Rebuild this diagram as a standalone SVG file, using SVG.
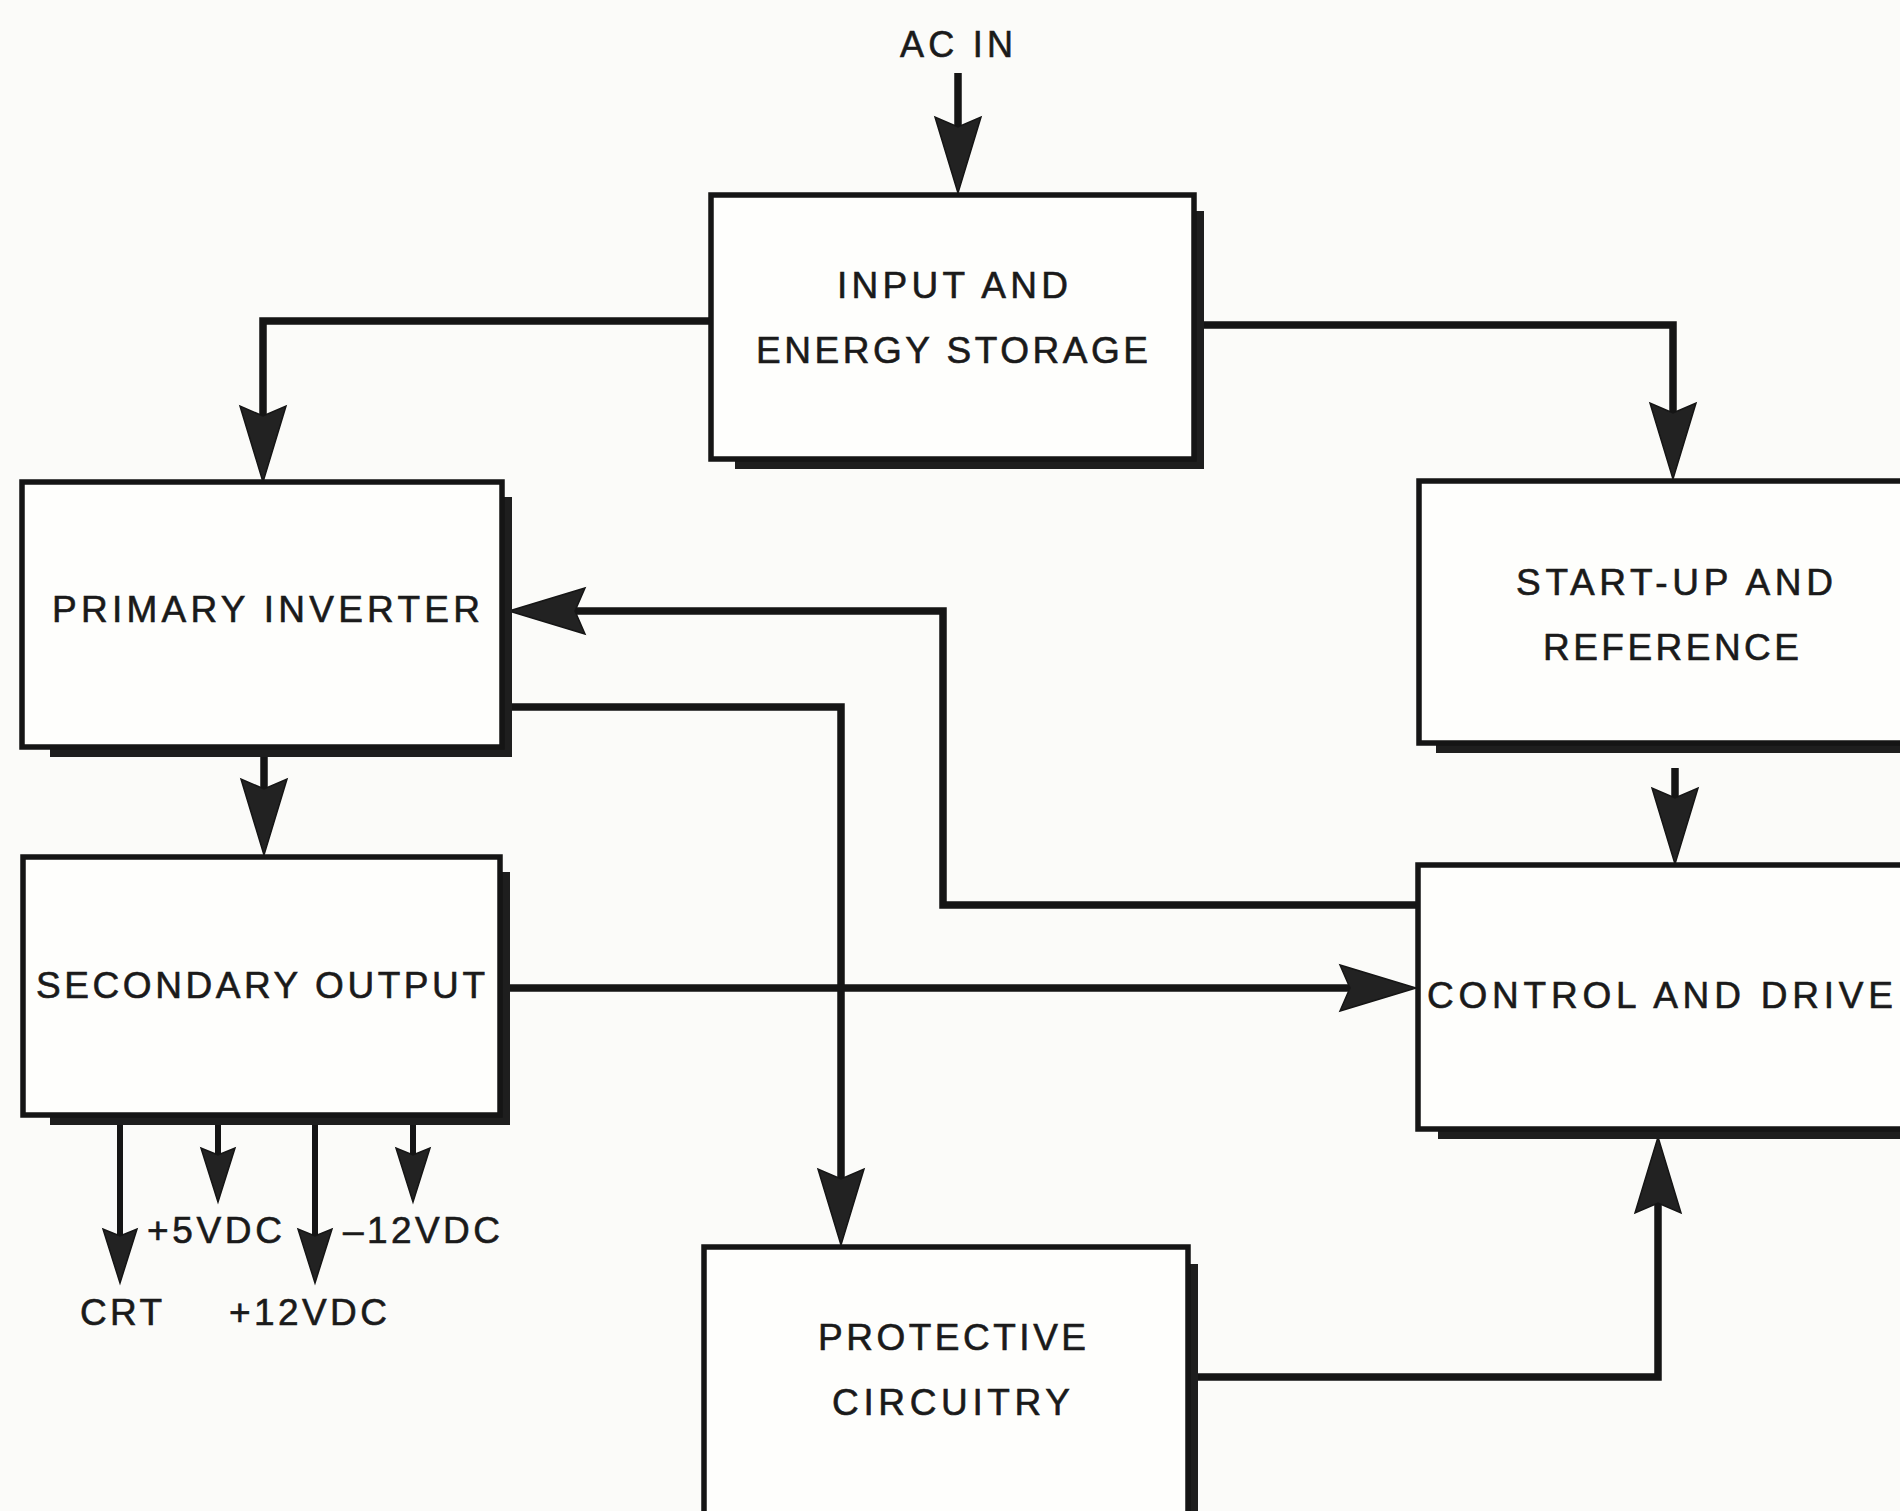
<svg xmlns="http://www.w3.org/2000/svg" xmlns:xlink="http://www.w3.org/1999/xlink" width="1900" height="1511" viewBox="0 0 1900 1511">
  <style>
    .box { fill: #fefefc; stroke: #151515; stroke-width: 5.5; }
    .shadow { fill: none; stroke: #1e1e1e; stroke-width: 8; stroke-linejoin: miter; }
    .wire { fill: none; stroke: #151515; stroke-width: 7.5; stroke-linejoin: miter; stroke-linecap: butt; }
    .thin { stroke-width: 6; }
    .head { fill: #222; stroke: #151515; stroke-width: 1.5; stroke-linejoin: miter; }
    .lbl { font-family: "Liberation Sans", Arial, Helvetica, sans-serif; font-size: 37px; fill: #1a1a1a; stroke: #1a1a1a; stroke-width: 0.6; }
    .small { font-size: 36px; }
  </style>
  <defs>
    <!-- arrowheads point down (+y) with the tip at the origin -->
    <path id="ah" d="M0,0 L-23,-76 L0,-66 L23,-76 Z"/>
    <path id="ahs" d="M0,0 L-17,-54 L0,-47 L17,-54 Z"/>
  </defs>

  <rect width="1900" height="1511" fill="#fbfbf9"/>

  <!-- connectors -->
  <g id="connectors">
    <!-- AC IN -->
    <path class="wire" d="M958,73 V128"/>
    <use xlink:href="#ah" class="head" transform="translate(958,193)"/>

    <!-- input -> primary inverter -->
    <path class="wire" d="M711,321 H263 V417"/>
    <use xlink:href="#ah" class="head" transform="translate(263,482)"/>

    <!-- input -> start-up -->
    <path class="wire" d="M1199,325 H1673 V413"/>
    <use xlink:href="#ah" class="head" transform="translate(1673,479)"/>

    <!-- primary -> secondary -->
    <path class="wire" d="M264,757 V790"/>
    <use xlink:href="#ah" class="head" transform="translate(264,855)"/>

    <!-- start-up -> control -->
    <path class="wire" d="M1675,768 V800"/>
    <use xlink:href="#ah" class="head" transform="translate(1675,864)"/>

    <!-- control -> primary (feedback) -->
    <path class="wire" d="M1418,905 H943 V611 H575"/>
    <use xlink:href="#ah" class="head" transform="translate(509,611) rotate(90)"/>

    <!-- primary -> protective -->
    <path class="wire" d="M505,707 H841 V1180"/>
    <use xlink:href="#ah" class="head" transform="translate(841,1245)"/>

    <!-- secondary -> control -->
    <path class="wire" d="M507,988 H1352"/>
    <use xlink:href="#ah" class="head" transform="translate(1416,988) rotate(-90)"/>

    <!-- protective -> control -->
    <path class="wire" d="M1194,1377 H1658 V1202"/>
    <use xlink:href="#ah" class="head" transform="translate(1658,1137) rotate(180)"/>

    <!-- DC outputs -->
    <path class="wire thin" d="M120,1122 V1240"/>
    <use xlink:href="#ahs" class="head" transform="translate(120,1283)"/>
    <path class="wire thin" d="M218,1122 V1160"/>
    <use xlink:href="#ahs" class="head" transform="translate(218,1202)"/>
    <path class="wire thin" d="M315,1122 V1240"/>
    <use xlink:href="#ahs" class="head" transform="translate(315,1283)"/>
    <path class="wire thin" d="M413,1122 V1160"/>
    <use xlink:href="#ahs" class="head" transform="translate(413,1202)"/>
  </g>

  <text class="lbl small" x="900" y="57" textLength="113" lengthAdjust="spacing">AC IN</text>

  <g id="input-energy-storage">
    <path class="shadow" d="M1200,211 V465 H735"/>
    <rect class="box" x="711" y="195" width="483" height="264"/>
    <text class="lbl" x="837" y="298" textLength="231" lengthAdjust="spacing">INPUT AND</text>
    <text class="lbl" x="756" y="363" textLength="392" lengthAdjust="spacing">ENERGY STORAGE</text>
  </g>

  <g id="primary-inverter">
    <path class="shadow" d="M508,497 V753 H50"/>
    <rect class="box" x="22" y="482" width="480" height="265"/>
    <text class="lbl" x="52" y="622" textLength="428" lengthAdjust="spacing">PRIMARY INVERTER</text>
  </g>

  <g id="secondary-output">
    <path class="shadow" d="M506,872 V1121 H50"/>
    <rect class="box" x="23" y="857" width="477" height="258"/>
    <text class="lbl" x="36" y="998" textLength="449" lengthAdjust="spacing">SECONDARY OUTPUT</text>
  </g>

  <g id="start-up-reference">
    <path class="shadow" d="M1436,749 H1910"/>
    <rect class="box" x="1419" y="481" width="540" height="262"/>
    <text class="lbl" x="1516" y="595" textLength="317" lengthAdjust="spacing">START-UP AND</text>
    <text class="lbl" x="1543" y="660" textLength="256" lengthAdjust="spacing">REFERENCE</text>
  </g>

  <g id="control-drive">
    <path class="shadow" d="M1438,1135 H1910"/>
    <rect class="box" x="1418" y="865" width="540" height="264"/>
    <text class="lbl" x="1427" y="1008" textLength="466" lengthAdjust="spacing">CONTROL AND DRIVE</text>
  </g>

  <g id="protective-circuitry">
    <path class="shadow" d="M1194,1264 V1530"/>
    <rect class="box" x="704" y="1247" width="484" height="320"/>
    <text class="lbl" x="818" y="1350" textLength="268" lengthAdjust="spacing">PROTECTIVE</text>
    <text class="lbl" x="832" y="1415" textLength="238" lengthAdjust="spacing">CIRCUITRY</text>
  </g>

  <g id="output-labels">
    <text class="lbl" x="147" y="1243" textLength="135" lengthAdjust="spacing">+5VDC</text>
    <text class="lbl" x="343" y="1243" textLength="157" lengthAdjust="spacing">–12VDC</text>
    <text class="lbl" x="80" y="1325" textLength="82" lengthAdjust="spacing">CRT</text>
    <text class="lbl" x="229" y="1325" textLength="158" lengthAdjust="spacing">+12VDC</text>
  </g>
</svg>
